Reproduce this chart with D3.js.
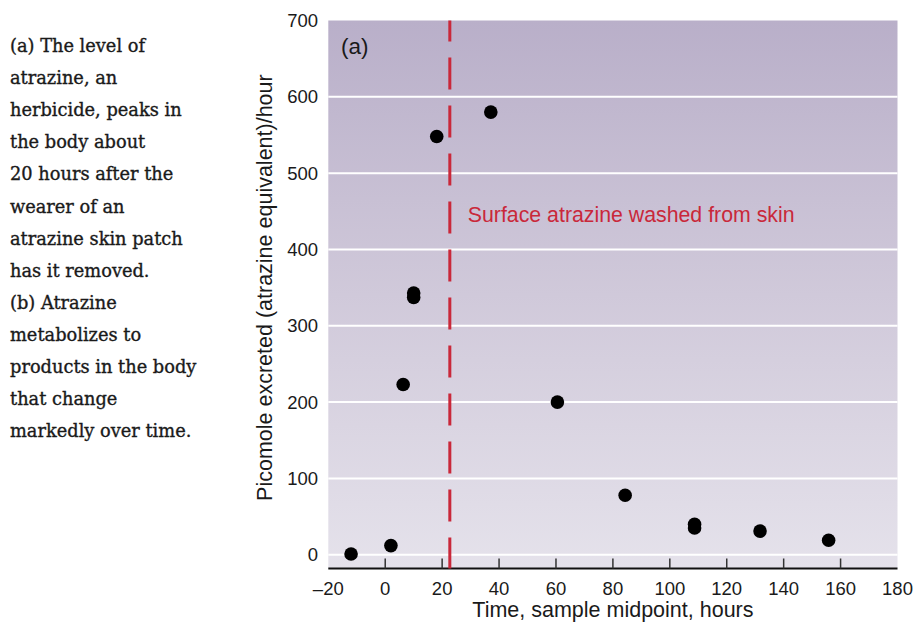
<!DOCTYPE html>
<html>
<head>
<meta charset="utf-8">
<script src="https://cdn.jsdelivr.net/npm/d3@7"></script>
<style>
  html, body { margin: 0; padding: 0; background: #fff; }
  svg { display: block; }
</style>
</head>
<body>
<svg id="chart" width="914" height="623"></svg>
<script>
// ---- data ----
const timeHours = [-12, 2, 6.3, 10, 10, 18.1, 37.1, 60.5, 84.3, 108.7, 108.7, 131.7, 155.8];
const picomoles = [1, 12, 223, 343, 337, 548, 580, 200, 78, 40, 35, 31, 19];
const xTicks = [0, 20, 40, 60, 80, 100, 120, 140, 160];
const xTickLabels = ["\u201320", "0", "20", "40", "60", "80", "100", "120", "140", "160", "180"];
const xLabelValues = [-20, 0, 20, 40, 60, 80, 100, 120, 140, 160, 180];
const yTicks = [0, 100, 200, 300, 400, 500, 600, 700];
const washTime = [22.7];
const captionLines = [
  "(a) The level of",
  "atrazine, an",
  "herbicide, peaks in",
  "the body about",
  "20 hours after the",
  "wearer of an",
  "atrazine skin patch",
  "has it removed.",
  "(b) Atrazine",
  "metabolizes to",
  "products in the body",
  "that change",
  "markedly over time."
];

const svg = d3.select("#chart");
const pLeft = 328.3, pRight = 897.5, pTop = 20.5, pBottom = 568.5;
const sans = "Liberation Sans, Arial, Helvetica, sans-serif";

const x = d3.scaleLinear().domain([-20, 180]).range([pLeft, pRight]);
const y = d3.scaleLinear().domain([-18, 700]).range([pBottom, pTop]);

// gradient background
const defs = svg.append("defs");
const grad = defs.append("linearGradient").attr("id", "bg").attr("x1", 0).attr("y1", 0).attr("x2", 0).attr("y2", 1);
grad.append("stop").attr("offset", "0%").attr("stop-color", "#b9afc9");
grad.append("stop").attr("offset", "50%").attr("stop-color", "#d0c9da");
grad.append("stop").attr("offset", "100%").attr("stop-color", "#e5e2eb");

svg.append("rect")
  .attr("x", pLeft).attr("y", pTop)
  .attr("width", pRight - pLeft).attr("height", pBottom - pTop)
  .attr("fill", "url(#bg)");

// gridlines
svg.append("g").selectAll("line")
  .data(yTicks.filter(d => d < 700))
  .join("line")
  .attr("x1", pLeft).attr("x2", pRight)
  .attr("y1", d => y(d)).attr("y2", d => y(d))
  .attr("stroke", "#ffffff").attr("stroke-width", 2);

// y tick labels
svg.append("g").selectAll("text")
  .data(yTicks)
  .join("text")
  .attr("x", 318).attr("y", d => y(d))
  .attr("dy", "0.36em")
  .attr("text-anchor", "end")
  .attr("font-family", sans)
  .attr("font-size", 18.5)
  .attr("fill", "#1a1a1a")
  .text(d => d);

// x axis line and ticks
svg.append("line")
  .attr("x1", pLeft).attr("x2", pRight)
  .attr("y1", pBottom).attr("y2", pBottom)
  .attr("stroke", "#111").attr("stroke-width", 2.2);

svg.append("g").selectAll("line")
  .data(xTicks)
  .join("line")
  .attr("x1", d => x(d)).attr("x2", d => x(d))
  .attr("y1", pBottom - 10).attr("y2", pBottom)
  .attr("stroke", "#333").attr("stroke-width", 1.5);

svg.append("g").selectAll("text")
  .data(xLabelValues)
  .join("text")
  .attr("x", d => x(d)).attr("y", 595)
  .attr("text-anchor", "middle")
  .attr("font-family", sans)
  .attr("font-size", 18.5)
  .attr("fill", "#1a1a1a")
  .text((d, i) => xTickLabels[i]);

// axis titles
svg.append("text")
  .attr("x", (pLeft + pRight) / 2).attr("y", 617)
  .attr("text-anchor", "middle")
  .attr("font-family", sans)
  .attr("font-size", 21.5)
  .attr("fill", "#1a1a1a")
  .text("Time, sample midpoint, hours");

svg.append("text")
  .attr("transform", `translate(272,${(y(0) + pTop) / 2}) rotate(-90)`)
  .attr("text-anchor", "middle")
  .attr("font-family", sans)
  .attr("font-size", 21.5)
  .attr("fill", "#1a1a1a")
  .text("Picomole excreted (atrazine equivalent)/hour");

// panel label
svg.append("text")
  .attr("x", 341).attr("y", 54)
  .attr("font-family", sans)
  .attr("font-size", 22.5)
  .attr("fill", "#1a1a1a")
  .text("(a)");

// wash line
svg.append("g").selectAll("line")
  .data(washTime)
  .join("line")
  .attr("x1", d => x(d)).attr("x2", d => x(d))
  .attr("y1", pTop).attr("y2", pBottom)
  .attr("stroke", "#c9283a").attr("stroke-width", 3)
  .attr("stroke-dasharray", "32,16")
  .attr("stroke-dashoffset", 11);

svg.append("text")
  .attr("x", x(washTime[0]) + 18).attr("y", 222)
  .attr("font-family", sans)
  .attr("font-size", 21.3)
  .attr("fill", "#c9283a")
  .text("Surface atrazine washed from skin");

// points
svg.append("g").selectAll("circle")
  .data(timeHours.map((t, i) => [t, picomoles[i]]))
  .join("circle")
  .attr("cx", d => x(d[0])).attr("cy", d => y(d[1]))
  .attr("r", 6.8)
  .attr("fill", "#000");

// caption
svg.append("g").selectAll("text")
  .data(captionLines)
  .join("text")
  .attr("x", 10).attr("y", (d, i) => 52 + i * 32.1)
  .attr("font-family", "DejaVu Serif, serif")
  .attr("font-size", 17.8)
  .attr("fill", "#1a1a1a")
  .attr("stroke", "#1a1a1a")
  .attr("stroke-width", 0.35)
  .text(d => d);
</script>
</body>
</html>
